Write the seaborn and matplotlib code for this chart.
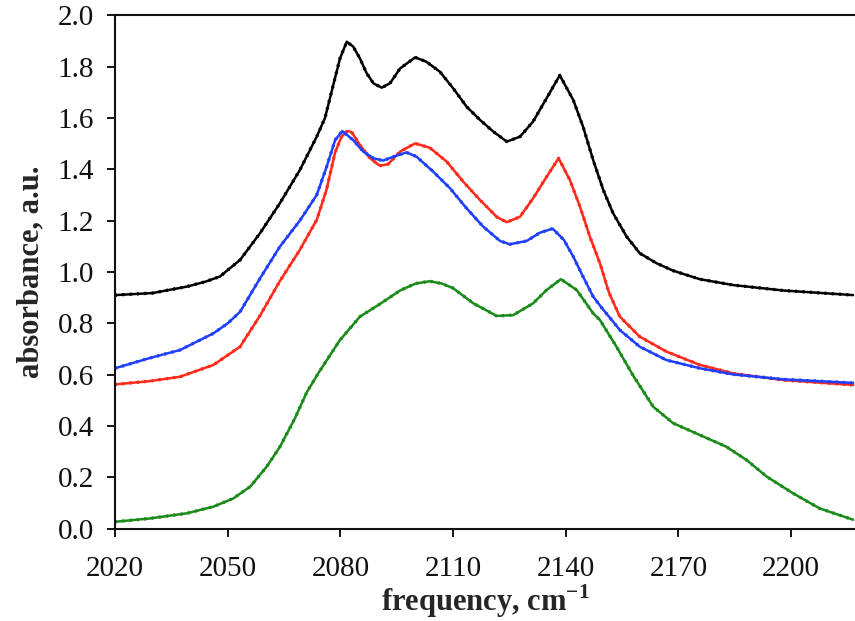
import matplotlib
matplotlib.use("Agg")
import matplotlib.pyplot as plt
import seaborn as sns
import pandas as pd

# ---- data ----
black_x = [2020, 2030, 2039.1, 2044, 2047.9, 2053.3, 2058.6, 2063.9, 2069.2, 2073.7, 2075.9,
           2078.1, 2079.9, 2081.7, 2083.4, 2085.2, 2087, 2088.8, 2091, 2093.2, 2095.9, 2099.9,
           2102.9, 2106.5, 2110, 2113.6, 2117.2, 2120.7, 2124.3, 2127.8, 2131.3, 2134.9,
           2138.4, 2142, 2144.6, 2147.3, 2150, 2152.6, 2156.2, 2159.7, 2164.2, 2168.6,
           2175.7, 2184.6, 2197.9, 2216.5]
black_y = [0.910, 0.918, 0.943, 0.962, 0.982, 1.047, 1.151, 1.268, 1.397, 1.527, 1.600,
           1.728, 1.832, 1.897, 1.878, 1.832, 1.774, 1.735, 1.718, 1.735, 1.793, 1.836,
           1.819, 1.780, 1.716, 1.644, 1.592, 1.547, 1.508, 1.527, 1.586, 1.677,
           1.766, 1.670, 1.566, 1.436, 1.319, 1.229, 1.138, 1.073, 1.034, 1.005,
           0.972, 0.949, 0.928, 0.910]

red_x = [2020, 2029.3, 2037.3, 2046.2, 2053.3, 2058.6, 2063.9, 2069.2, 2073.7, 2076.3, 2078.6,
         2080.3, 2081.8, 2083, 2085.2, 2087.9, 2090.5, 2092.7, 2095.9, 2099.9, 2103.8, 2108.3,
         2112.7, 2117.2, 2121.6, 2124.3, 2127.8, 2131.3, 2134.9, 2138.1, 2141.1, 2143.8,
         2146.4, 2149.1, 2151.5, 2154.4, 2159.7, 2166.8, 2175.7, 2184.6, 2197.9, 2216.5]
red_y = [0.562, 0.575, 0.592, 0.638, 0.709, 0.830, 0.965, 1.086, 1.203, 1.320, 1.466,
         1.527, 1.549, 1.545, 1.495, 1.443, 1.414, 1.420, 1.469, 1.501, 1.484, 1.430,
         1.352, 1.280, 1.215, 1.194, 1.215, 1.287, 1.371, 1.443, 1.358, 1.254,
         1.138, 1.034, 0.920, 0.826, 0.748, 0.690, 0.638, 0.605, 0.579, 0.560]

blue_x = [2020, 2029.3, 2037.3, 2046.2, 2050, 2053.3, 2058.6, 2063.9, 2069.2, 2073.7, 2076.3,
          2078.6, 2080.5, 2083.4, 2086.1, 2088.8, 2091.4, 2094.1, 2097.6, 2100.3, 2104.7,
          2109.2, 2113.6, 2118, 2122.5, 2125.1, 2129.6, 2133.1, 2136.5, 2139.5, 2142,
          2144.6, 2147.3, 2149.5, 2154.4, 2159.7, 2166.8, 2175.7, 2184.6, 2197.9, 2216.5]
blue_y = [0.625, 0.665, 0.696, 0.761, 0.800, 0.845, 0.975, 1.099, 1.200, 1.300, 1.408,
          1.514, 1.549, 1.514, 1.469, 1.443, 1.434, 1.449, 1.466, 1.449, 1.391,
          1.326, 1.248, 1.177, 1.121, 1.108, 1.121, 1.153, 1.169, 1.125, 1.060,
          0.982, 0.904, 0.862, 0.774, 0.709, 0.657, 0.625, 0.601, 0.582, 0.568]

green_x = [2020, 2029.3, 2039.1, 2046.2, 2051.5, 2056, 2060.4, 2063.9, 2067.9, 2071, 2074.3,
           2079.9, 2085.2, 2090.5, 2095.9, 2100, 2103.8, 2107, 2110, 2115.4, 2121.6, 2126,
           2131.3, 2134.9, 2138.7, 2142.9, 2147.3, 2149.1, 2153.5, 2158, 2163.3, 2168.6,
           2175.7, 2182.8, 2188.1, 2193.5, 2200.5, 2207.6, 2216.5]
green_y = [0.027, 0.040, 0.060, 0.086, 0.118, 0.164, 0.242, 0.319, 0.430, 0.530, 0.610,
           0.735, 0.826, 0.875, 0.928, 0.955, 0.964, 0.955, 0.937, 0.878, 0.829, 0.832,
           0.878, 0.930, 0.972, 0.930, 0.839, 0.813, 0.709, 0.595, 0.475, 0.411,
           0.365, 0.319, 0.268, 0.203, 0.138, 0.079, 0.035]

x_ticks = [2020, 2050, 2080, 2110, 2140, 2170, 2200]
y_ticks = [0.0, 0.2, 0.4, 0.6, 0.8, 1.0, 1.2, 1.4, 1.6, 1.8, 2.0]

series = [
    ("black", black_x, black_y, "#000000"),
    ("red", red_x, red_y, "#ff2a1a"),
    ("blue", blue_x, blue_y, "#1f3fff"),
    ("green", green_x, green_y, "#1a8a1a"),
]

sns.set_style("white")
plt.rcParams["font.family"] = ["Liberation Serif", "DejaVu Serif"]
plt.rcParams["mathtext.fontset"] = "custom"
plt.rcParams["mathtext.rm"] = "Liberation Serif"
plt.rcParams["mathtext.bf"] = "Liberation Serif:bold"

fig = plt.figure(figsize=(8.55, 6.21), dpi=100)
ax = fig.add_axes([0.1345, 0.1486, 0.8655, 0.8268])

for name, xs, ys, col in series:
    df = pd.DataFrame({"x": xs, "y": ys})
    sns.lineplot(data=df, x="x", y="y", ax=ax, color=col, linewidth=1.8,
                 sort=False, estimator=None)
    sns.lineplot(data=df, x="x", y="y", ax=ax, color=col, linewidth=2.4,
                 linestyle=(0, (0.6, 1.6)), sort=False, estimator=None)

ax.set_xlim(2020, 2217)
ax.set_ylim(0, 2.0)
ax.set_xticks(x_ticks)
ax.set_yticks(y_ticks)
ax.set_xticklabels([str(t) for t in x_ticks])
ax.set_yticklabels([f"{t:.1f}" for t in y_ticks])
ax.tick_params(axis="both", direction="out", length=6, width=1.3, labelsize=21,
               color="black", labelcolor="#111111", bottom=True, left=True)
ax.tick_params(axis="x", pad=14)
ax.tick_params(axis="y", pad=9)
for s in ["left", "bottom", "top"]:
    ax.spines[s].set_visible(True)
    ax.spines[s].set_color("#111111")
    ax.spines[s].set_linewidth(1.5)
ax.spines["right"].set_visible(False)

ax.set_xlabel("frequency, cm$^{\\mathbf{-1}}$", fontsize=22, fontweight="bold", labelpad=0)
ax.set_ylabel("absorbance, a.u.", fontsize=22, fontweight="bold", labelpad=9)

fig.savefig("out.png", dpi=100)
